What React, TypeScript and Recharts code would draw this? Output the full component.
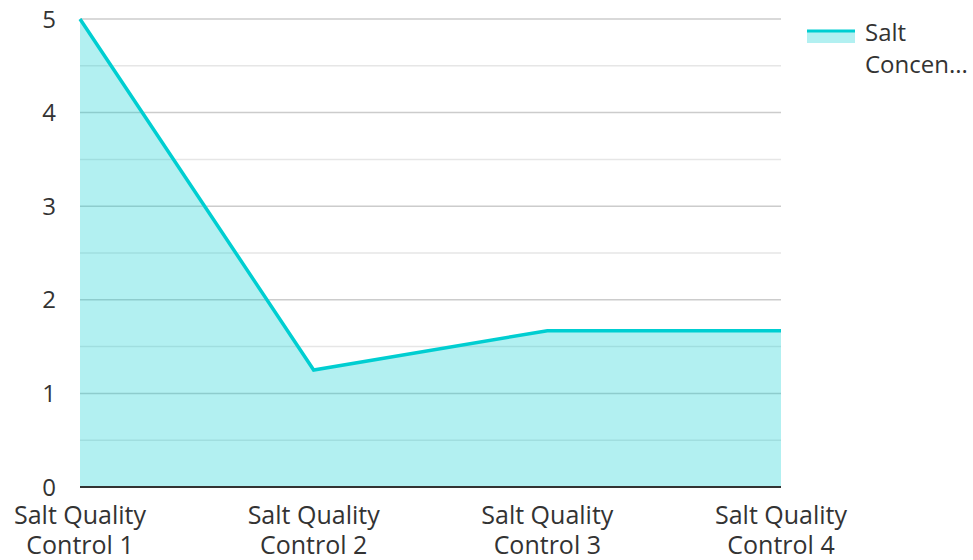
import React from 'react';
import { AreaChart, Area, XAxis, YAxis, CartesianGrid } from 'recharts';

const categories = ['Salt Quality Control 1', 'Salt Quality Control 2', 'Salt Quality Control 3', 'Salt Quality Control 4'];
const saltConcentration = [5, 1.25, 1.67, 1.67];
const yTicks = [0, 1, 2, 3, 4, 5];
const minorTicks = [0.5, 1.5, 2.5, 3.5, 4.5];
const yDomain: [number, number] = [0, 5];
const seriesName = 'Salt Concentration';

const data = categories.map((c, i) => ({ name: c, value: saltConcentration[i] }));

const FONT = '"Open Sans", sans-serif';
const LINE = '#00CED1';
const FS = 24;

const minorGen = (props: any) => {
  const yAxis = props?.yAxis;
  if (yAxis && typeof yAxis.scale === 'function') {
    return minorTicks.map((t) => yAxis.scale(t));
  }
  const off = props?.offset || {};
  return minorTicks.map((t) => off.top + off.height * (1 - (t - yDomain[0]) / (yDomain[1] - yDomain[0])));
};

const XTick = (props: any) => {
  const { x, y, payload } = props;
  const words = String(payload.value).split(' ');
  const l1 = words.slice(0, 2).join(' ');
  const l2 = words.slice(2).join(' ');
  return (
    <text x={x} y={y} textAnchor="middle" fill="#333" fontSize={25} fontFamily={FONT}>
      <tspan x={x} dy={29}>{l1}</tspan>
      <tspan x={x} dy={30}>{l2}</tspan>
    </text>
  );
};

const LegendBox = () => (
  <div
    style={{
      position: 'absolute',
      left: 806,
      top: 16,
      display: 'flex',
      alignItems: 'flex-start',
      fontFamily: FONT,
      fontSize: FS,
      color: '#333',
    }}
  >
    <svg width={50} height={16} style={{ marginTop: 12, marginRight: 9 }}>
      <rect x={1} y={3} width={48} height={12} fill={LINE} fillOpacity={0.3} />
      <line x1={1} y1={3} x2={49} y2={3} stroke={LINE} strokeWidth={3} />
    </svg>
    <div style={{ lineHeight: '32px', width: 110, whiteSpace: 'nowrap' }}>
      <div>Salt</div>
      <div>Concen...</div>
    </div>
  </div>
);

export default function App() {
  return (
    <div style={{ position: 'absolute', left: 0, top: 0, width: 973, height: 560, background: '#fff' }}>
      <AreaChart width={973} height={560} data={data} margin={{ top: 19, right: 192, bottom: 0, left: 0 }}>
        <CartesianGrid vertical={false} stroke="#e6e6e6" strokeWidth={1.5} horizontalCoordinatesGenerator={minorGen} />
        <CartesianGrid vertical={false} stroke="#cccccc" strokeWidth={1.5} />
        <XAxis
          dataKey="name"
          height={73}
          tick={<XTick />}
          tickLine={false}
          axisLine={{ stroke: '#333', strokeWidth: 2 }}
          interval={0}
        />
        <YAxis
          domain={yDomain}
          ticks={yTicks}
          width={80}
          axisLine={false}
          tickLine={false}
          tick={{ fill: '#333', fontSize: FS, fontFamily: FONT }}
          tickMargin={18}
        />
        <Area
          type="linear"
          dataKey="value"
          name={seriesName}
          stroke={LINE}
          strokeWidth={3.5}
          fill={LINE}
          fillOpacity={0.3}
          isAnimationActive={false}
          dot={false}
          activeDot={false}
        />
      </AreaChart>
      <LegendBox />
    </div>
  );
}
